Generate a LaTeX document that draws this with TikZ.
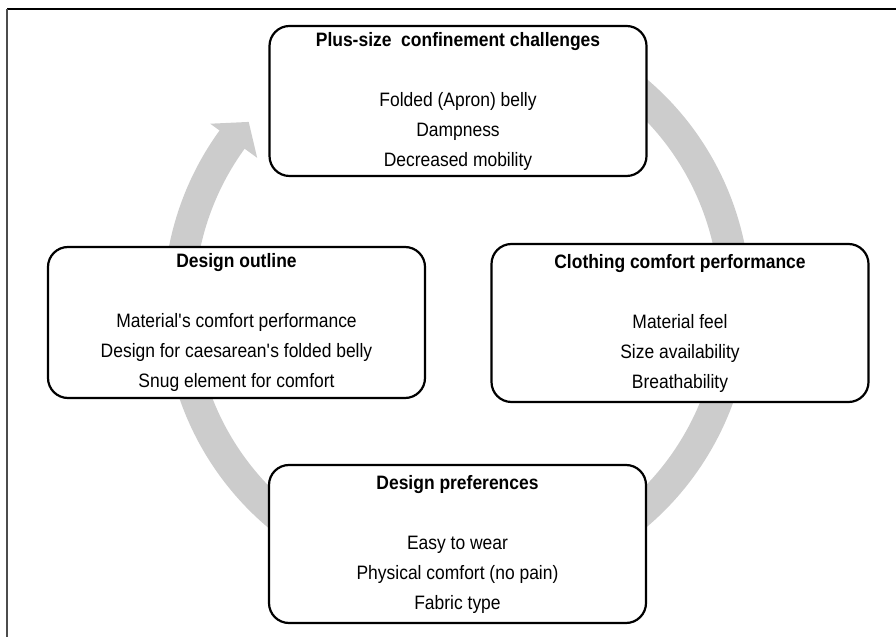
\documentclass[tikz,border=0pt]{standalone}
\usepackage{fontspec}
\setmainfont{Liberation Sans}[FakeStretch=0.9]
\definecolor{ringgray}{RGB}{204,204,204}

\begin{document}
\begin{tikzpicture}[x=1pt, y=1pt,
  stage/.style={draw=black, line width=2.2pt, fill=white, rounded corners=20pt,
    minimum width=377pt, inner sep=0pt, align=center,
    font=\fontsize{19.4}{30}\selectfont}]
\useasboundingbox (0,0) rectangle (896,637);
\draw[black, line width=1.3pt] (7,628) -- (896,628);
\draw[gray!60!black, line width=2pt] (7,628) -- (7,0);
\coordinate (hub) at (457,334);
\draw[ringgray, line width=31pt] ([shift={(60:278)}]hub) arc (60:-216.5:278);
\fill[ringgray] ([shift={(144:247)}]hub) -- ([shift={(139:276)}]hub) -- ([shift={(144:305)}]hub) -- cycle;
\node[stage, minimum height=150pt] (challenges) at (458,536)
  {\textbf{Plus-size\ \ confinement challenges}\\[30pt]Folded (Apron) belly\\Dampness\\Decreased mobility};
\node[stage, minimum height=158pt] (comfort) at (680,314)
  {\textbf{Clothing comfort performance}\\[30pt]Material feel\\Size availability\\Breathability};
\node[stage, minimum height=158pt] (preferences) at (457.5,93)
  {\textbf{Design preferences}\\[30pt]Easy to wear\\Physical comfort (no pain)\\Fabric type};
\node[stage, minimum height=151pt] (outline) at (236.5,314.5)
  {\textbf{Design outline}\\[30pt]Material\textquotesingle s comfort performance\\Design for caesarean\textquotesingle s folded belly\\Snug element for comfort};
\end{tikzpicture}
\end{document}
